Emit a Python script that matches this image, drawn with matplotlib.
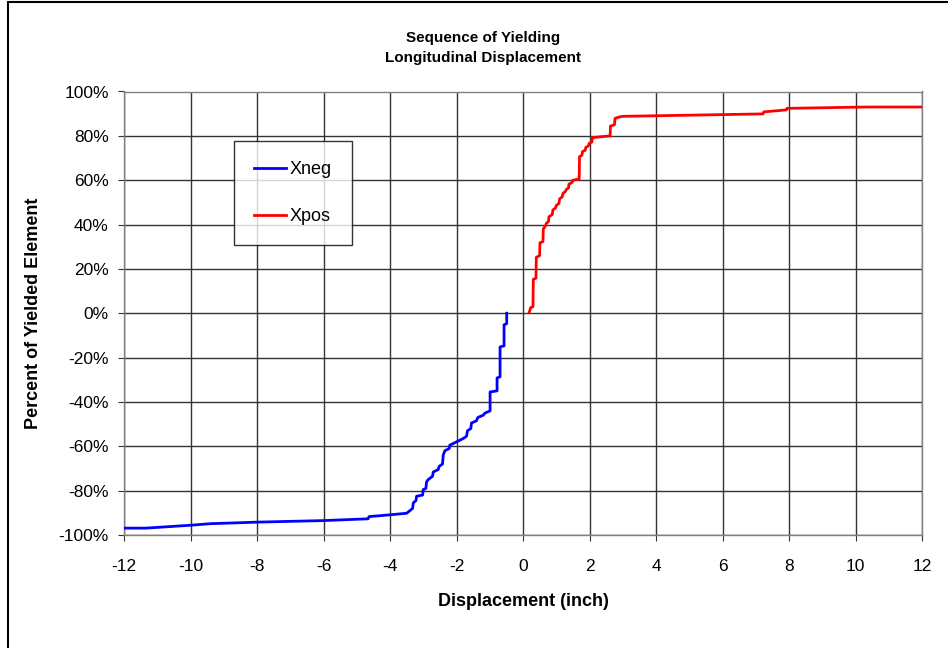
import matplotlib
matplotlib.use("Agg")
import matplotlib.pyplot as plt
from matplotlib.patches import Rectangle
from matplotlib.ticker import FuncFormatter

plt.rcParams['font.family'] = ['Liberation Sans', 'DejaVu Sans']

# Xneg curve vertices (displacement, percent)
xneg_x = [-0.49, -0.49, -0.57, -0.57, -0.69, -0.69, -0.78, -0.78, -0.99, -0.99,
          -1.14, -1.20, -1.36, -1.40, -1.55, -1.57, -1.67, -1.70, -1.80, -2.00,
          -2.20, -2.22, -2.35, -2.40, -2.42, -2.52, -2.55, -2.70, -2.72, -2.85,
          -2.90, -2.92, -3.00, -3.02, -3.20, -3.22, -3.30, -3.32, -3.40, -3.50,
          -4.00, -4.63, -4.66, -6.00, -8.00, -9.40, -10.00, -11.34, -12.00]
xneg_y = [0.0, -4.7, -5.2, -14.7, -15.2, -28.6, -29.2, -35.0, -35.5, -44.0,
          -45.0, -46.0, -47.0, -48.5, -49.5, -52.0, -53.0, -55.5, -56.5, -58.0,
          -59.5, -61.0, -62.0, -64.0, -68.0, -69.0, -70.5, -71.6, -73.5, -75.0,
          -76.0, -79.0, -79.5, -82.0, -82.5, -84.5, -85.5, -88.0, -89.0, -90.2,
          -90.9, -91.7, -92.7, -93.5, -94.2, -94.9, -95.6, -96.9, -96.9]

# Xpos curve vertices (displacement, percent)
xpos_x = [0.19, 0.23, 0.30, 0.31, 0.39, 0.40, 0.50, 0.51, 0.60, 0.61,
          0.68, 0.70, 0.77, 0.78, 0.88, 0.90, 0.98, 1.00, 1.08, 1.10,
          1.18, 1.20, 1.28, 1.30, 1.37, 1.38, 1.48, 1.50, 1.69, 1.70,
          1.77, 1.79, 1.87, 1.89, 1.97, 1.99, 2.07, 2.09, 2.62, 2.63,
          2.75, 2.77, 2.92, 3.00, 7.22, 7.24, 7.92, 7.94, 10.30, 12.00]
xpos_y = [0.5, 2.5, 3.0, 15.3, 15.8, 25.2, 26.0, 31.8, 32.3, 38.0,
          39.5, 40.5, 41.5, 43.5, 44.5, 46.6, 47.5, 48.6, 49.5, 51.6,
          52.5, 54.0, 55.0, 55.8, 56.5, 58.2, 59.0, 60.0, 60.5, 70.6,
          71.2, 72.9, 73.5, 74.8, 75.5, 76.6, 77.2, 79.2, 80.0, 84.4,
          85.0, 87.9, 88.6, 88.8, 89.9, 90.8, 91.7, 92.4, 93.0, 93.0]

x_ticks = list(range(-12, 13, 2))
y_ticks = list(range(-100, 101, 20))

W, H = 948, 648
fig = plt.figure(figsize=(W / 100, H / 100), dpi=100)
fig.patch.set_facecolor('white')
fig.patches.append(Rectangle((8 / W, -0.05), 1.1, (H - 2) / H + 0.05,
                             transform=fig.transFigure, fill=False,
                             edgecolor='black', linewidth=1.5))

ax = fig.add_axes([124 / W, 1 - 535 / H, (922 - 124) / W, (535 - 91.5) / H])
ax.plot(xneg_x, xneg_y, color='#0000ff', lw=2.0, label='Xneg', zorder=3)
ax.plot(xpos_x, xpos_y, color='#ff0000', lw=2.0, label='Xpos', zorder=3)

ax.set_xlim(-12, 12)
ax.set_ylim(-100, 100)
ax.set_xticks(x_ticks)
ax.set_yticks(y_ticks)
ax.set_xticklabels([str(v) for v in x_ticks])
ax.yaxis.set_major_formatter(FuncFormatter(lambda v, p: f"{int(round(v))}%"))
ax.grid(True, color='#333333', linewidth=1.0)
ax.set_axisbelow(True)
for s in ax.spines.values():
    s.set_color('#808080')
    s.set_linewidth(1.0)
ax.tick_params(axis='both', labelsize=12.5, length=4, color='#333333',
               direction='out')
ax.tick_params(axis='x', pad=13)
ax.tick_params(axis='y', pad=7)

ax.set_xlabel('Displacement (inch)', fontsize=13, fontweight='bold', labelpad=14)
ax.set_ylabel('Percent of Yielded Element', fontsize=13, fontweight='bold', labelpad=12)

fig.text(483 / W, 1 - 38 / H, 'Sequence of Yielding', ha='center', va='center',
         fontsize=11, fontweight='bold')
fig.text(483 / W, 1 - 58 / H, 'Longitudinal Displacement', ha='center', va='center',
         fontsize=11, fontweight='bold')

leg = ax.legend(loc='upper left', bbox_to_anchor=((234 - 124) / (922 - 124),
                                                   1 - (141 - 91.5) / (535 - 91.5)),
                fontsize=13, frameon=True, fancybox=False, edgecolor='black',
                borderpad=1.1, labelspacing=1.68, handlelength=1.8,
                handletextpad=0.2, borderaxespad=0)
leg.get_frame().set_linewidth(1.0)

fig.savefig('out.png', dpi=100)
